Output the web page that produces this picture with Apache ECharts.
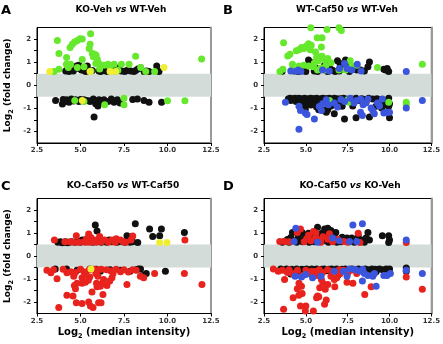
<!DOCTYPE html>
<html>
<head>
<meta charset="utf-8">
<script src="https://cdn.jsdelivr.net/npm/echarts@6/dist/echarts.min.js"></script>
<style>
html, body { margin: 0; padding: 0; background: #fff; }
#chart { width: 443px; height: 344px; }
</style>
</head>
<body>
<div id="chart"></div>
<script>
// panel titles
var panelLetters = ['A', 'B', 'C', 'D'];
var panelTitles = [
  ['KO-Veh', 'WT-Veh'],
  ['WT-Caf50', 'WT-Veh'],
  ['KO-Caf50', 'WT-Caf50'],
  ['KO-Caf50', 'KO-Veh']
];
var xTicks = [2.5, 5.0, 7.5, 10.0, 12.5];
var yTicks = [-2, -1, 0, 1, 2];

// A: KO-Veh vs WT-Veh
var aBlack = [
  [4.15,0.62],[4.24,0.66],[4.34,0.6],[4.43,0.64],[4.59,0.62],[4.78,0.83],[4.91,0.72],[5.2,0.64],[5.3,0.6],[5.39,0.83],
  [5.49,0.62],[5.68,0.64],[6.06,0.62],[6.16,0.6],[6.31,0.64],[6.45,0.62],[6.58,0.6],[6.77,0.64],[7.21,0.76],[7.35,0.62],
  [7.54,0.6],[7.65,0.64],[7.88,0.62],[8.07,0.6],[8.17,0.64],[8.3,0.7],[8.46,0.76],[8.65,0.6],[8.8,0.62],[8.94,0.6],
  [9.38,0.83],[9.51,0.6],[4.9,0.87],[5.05,0.66],[6.9,0.66],[7.0,0.62],
  [3.57,-0.66],[3.96,-0.81],[4.09,-0.7],[4.2,-0.63],[4.34,-0.74],[4.47,-0.6],[4.72,-0.63],[4.91,-0.7],[5.2,-0.63],[5.39,-0.66],
  [5.55,-0.7],[5.74,-0.6],[5.87,-0.8],[6.06,-0.63],[6.16,-0.74],[6.35,-0.63],[6.58,-0.7],[6.77,-0.6],[6.93,-0.74],[7.12,-0.63],
  [7.27,-0.77],[8.27,-0.6],[8.65,-0.66],[8.94,-0.74],[9.66,-0.74],[5.78,-1.37],[4.0,-0.62],[4.6,-0.68],[5.0,-0.62],[5.65,-0.65],
  [6.0,-0.9],[6.25,-0.66],[6.85,-0.66],[8.0,-0.62]
];
var aGreen = [
  [3.67,1.94],[3.76,1.37],[4.2,1.2],[4.4,1.63],[4.53,1.77],[4.66,1.87],[4.82,1.94],[4.97,2.01],[5.1,2.0],[5.58,2.23],
  [5.55,1.77],[5.5,1.59],[5.68,1.37],[5.81,1.34],[5.9,1.3],[5.74,1.23],[5.97,1.11],[5.1,1.11],[4.19,0.91],[4.43,0.91],
  [4.3,0.77],[4.82,0.77],[5.2,0.8],[5.88,0.94],[6.06,0.94],[6.35,0.87],[6.58,0.91],[6.93,0.91],[7.35,0.91],[7.79,0.91],
  [8.17,1.26],[8.46,0.77],[9.26,0.59],[11.96,1.14],[3.76,0.69],[3.48,0.59],[5.6,0.62],[6.1,0.7],[6.7,0.75],[7.15,0.65],
  [8.75,0.6],
  [4.67,-0.66],[6.39,-0.84],[7.5,-0.56],[7.5,-0.84],[10.0,-0.67],[11.0,-0.67],[5.2,-0.7]
];
var aYellow = [[3.23,0.59],[9.8,0.77],[6.7,0.59],[7.02,0.59],[5.1,-0.66],[5.55,0.6]];

// B: WT-Caf50 vs WT-Veh
var bBlack = [
  [3.59,0.61],[5.16,1.09],[5.35,0.97],[5.2,0.87],[6.12,0.87],[6.22,0.97],[6.41,0.77],[6.89,1.06],[7.04,0.94],[7.37,1.09],
  [7.46,0.97],[7.2,0.8],[7.84,0.69],[8.04,0.66],[8.27,0.66],[8.5,0.62],[8.8,1.01],[8.71,0.8],[9.66,0.69],[9.76,0.66],
  [9.86,0.73],[9.95,0.59],[4.3,0.62],[4.55,0.6],[4.9,0.64],[5.0,0.6],[5.5,0.62],[5.7,0.6],[6.3,0.6],[6.6,0.65],
  [6.75,0.6],[7.0,0.62],[7.6,0.6],[5.6,0.75],[6.0,0.72],[4.7,0.72],
  [3.95,-0.6],[4.05,-0.56],[4.1,-0.66],[4.2,-0.58],[4.28,-0.62],[4.35,-0.56],[4.42,-0.7],[4.5,-0.6],[4.58,-0.56],[4.65,-0.65],
  [4.72,-0.58],[4.8,-0.62],[4.85,-0.74],[4.92,-0.56],[5.0,-0.66],[5.05,-0.6],[5.12,-0.8],[5.18,-0.58],[5.25,-0.64],[5.3,-0.56],
  [5.38,-0.7],[5.45,-0.6],[5.5,-0.58],[5.58,-0.66],[5.65,-0.56],[5.72,-0.62],[5.8,-0.74],[5.88,-0.58],[5.95,-0.64],[6.02,-0.56],
  [6.1,-0.7],[6.18,-0.6],[6.25,-0.58],[6.32,-0.8],[6.4,-0.56],[6.48,-0.64],[6.55,-0.6],[6.62,-0.72],[6.7,-0.56],[6.78,-0.62],
  [6.85,-0.58],[6.95,-0.68],[7.05,-0.58],[7.15,-0.64],[7.25,-0.56],[7.4,-0.6],[7.55,-0.7],[7.7,-0.58],[7.85,-0.62],[8.0,-0.56],
  [8.15,-0.66],[8.35,-0.58],[8.55,-0.62],[8.75,-0.56],[9.0,-0.6],[9.25,-0.58],[9.5,-0.62],[9.8,-0.68],[9.95,-0.56],[10.0,-0.8],
  [4.88,-0.91],[4.97,-1.03],[5.64,-0.94],[5.77,-1.06],[6.12,-1.09],[6.22,-1.17],[6.31,-1.06],[6.7,-1.23],[7.31,-1.46],[7.17,-0.91],
  [8.0,-1.41],[8.8,-1.37],[9.19,-0.91],[9.53,-0.99],[9.95,-0.91],[10.0,-1.41],[5.3,-0.85],[5.55,-0.8],[6.5,-0.9],[7.0,-0.85],
  [7.8,-0.9],[8.6,-0.75],[9.7,-0.85]
];
var bGreen = [
  [3.67,1.84],[3.92,1.27],[4.05,1.34],[4.43,1.49],[4.59,1.54],[4.74,1.63],[4.88,1.59],[5.01,1.69],[5.16,1.8],[5.26,1.54],
  [5.32,1.73],[5.3,2.49],[6.27,2.41],[6.98,2.49],[7.12,2.37],[5.68,2.06],[5.97,2.06],[5.58,1.44],[5.93,1.66],[5.64,1.2],
  [5.83,1.23],[5.97,1.26],[6.12,1.09],[6.31,1.16],[5.74,1.06],[6.5,0.97],[4.2,0.91],[4.59,0.83],[4.88,0.87],[5.16,0.83],
  [5.45,0.8],[3.63,0.69],[4.17,0.66],[5.7,0.66],[5.9,0.75],[6.12,0.66],[6.98,0.66],[7.37,0.66],[7.65,1.06],[7.74,0.83],
  [8.04,0.87],[9.28,0.77],[11.96,0.91],[3.45,0.6],[6.2,0.85],[5.5,0.95],
  [6.41,-0.66],[7.5,-0.63],[7.56,-0.74],[9.95,-0.74],[11.0,-0.74],[11.0,-0.83]
];
var bBlue = [
  [4.55,0.66],[4.7,0.6],[6.0,0.66],[6.4,0.62],[7.31,0.94],[7.46,0.73],[8.07,0.91],[7.75,0.66],[11.0,0.59],[4.1,0.62],
  [4.45,0.62],[8.3,0.62],[7.0,0.72],
  [3.78,-0.74],[4.59,-0.91],[4.68,-1.09],[4.97,-1.2],[5.07,-1.27],[5.51,-1.46],[4.59,-1.91],[5.93,-1.09],[6.22,-0.63],[6.35,-0.84],
  [6.7,-0.77],[6.89,-0.94],[7.31,-0.7],[7.65,-0.56],[7.88,-0.77],[8.04,-0.66],[8.27,-0.6],[8.42,-0.84],[8.57,-0.77],[8.71,-0.6],
  [8.9,-0.99],[9.0,-1.09],[8.27,-1.17],[8.38,-1.31],[9.09,-1.23],[9.28,-0.77],[9.66,-1.2],[9.86,-1.17],[10.0,-1.17],[9.57,-0.6],
  [11.96,-0.66],[11.0,-0.98],[5.8,-0.92],[6.0,-0.8],[7.1,-0.62],[9.4,-0.9]
];

// C: KO-Caf50 vs WT-Caf50
var cBlack = [
  [5.85,1.35],[5.95,1.09],[8.15,1.4],[8.97,1.17],[9.15,0.85],[9.65,1.17],[9.55,0.88],[10.97,1.02],[7.67,0.88],[7.96,0.85],
  [8.29,0.59],[3.7,0.6],[3.85,0.62],[3.95,0.58],[4.05,0.6],[4.15,0.62],[4.25,0.58],[4.35,0.6],[4.5,0.62],[4.7,0.6],
  [4.85,0.64],[5.0,0.6],[5.1,0.7],[5.25,0.62],[5.4,0.66],[5.55,0.7],[5.7,0.6],[5.8,0.64],[5.95,0.62],[6.05,0.72],
  [6.2,0.6],[6.35,0.66],[6.5,0.6],[6.65,0.7],[6.8,0.62],[6.95,0.66],[7.1,0.6],[7.25,0.64],[7.4,0.62],[7.55,0.6],
  [7.7,0.66],[7.85,0.6],[8.0,0.62],
  [3.55,-0.56],[4.2,-0.56],[4.8,-0.62],[5.55,-0.56],[6.14,-0.66],[6.7,-0.6],[7.3,-0.62],[7.85,-0.66],[8.34,-0.56],[8.45,-0.56],
  [8.59,-0.85],[8.78,-0.76],[9.88,-0.66],[8.2,-0.6],[5.9,-0.58]
];
var cRed = [
  [3.5,0.7],[4.1,0.62],[4.4,0.62],[4.76,0.88],[5.47,0.96],[5.6,0.8],[5.78,0.7],[6.1,0.85],[6.4,0.7],[6.8,0.7],
  [7.05,0.75],[7.3,0.7],[7.6,0.6],[7.9,0.7],[11.0,0.7],[4.6,0.6],[4.9,0.6],[5.2,0.62],[5.35,0.75],[5.5,0.6],
  [5.65,0.62],[5.9,0.6],[6.2,0.62],[6.6,0.6],[7.0,0.6],[7.45,0.62],[5.3,0.6],[8.0,0.87],
  [3.07,-0.62],[3.3,-0.73],[3.65,-0.99],[3.45,-0.6],[4.0,-0.58],[4.22,-0.73],[4.45,-0.68],[4.7,-0.72],[4.61,-0.88],[5.0,-0.58],
  [5.2,-0.68],[5.09,-0.95],[5.5,-0.6],[5.78,-0.58],[5.88,-0.76],[6.0,-0.88],[4.8,-1.19],[4.65,-1.28],[4.71,-1.42],[5.09,-1.19],
  [5.28,-1.14],[5.53,-0.91],[5.66,-1.57],[5.95,-1.34],[5.92,-1.19],[6.14,-1.31],[6.24,-1.19],[6.33,-1.02],[6.52,-1.28],[6.68,-1.09],
  [6.81,-0.95],[6.87,-0.76],[6.29,-1.67],[4.22,-1.71],[4.57,-1.74],[4.76,-2.03],[5.09,-2.06],[5.47,-2.0],[5.57,-2.17],[5.72,-2.24],
  [6.04,-2.03],[6.18,-2.03],[3.75,-2.24],[7.67,-1.24],[8.44,-0.88],[8.63,-0.95],[9.26,-0.76],[10.97,-0.76],[11.98,-1.24],
  [6.5,-0.6],[6.75,-0.65],[7.05,-0.58],[7.3,-0.68],[7.5,-0.6],[7.75,-0.7],[8.0,-0.6],[8.2,-0.62],[6.2,-0.58],[5.3,-0.8],
  [5.45,-1.05],[6.0,-0.6]
];
var cYellow = [[9.55,0.59],[9.97,0.59],[5.6,-0.56]];

// D: KO-Caf50 vs KO-Veh
var dBlack = [
  [4.2,1.02],[4.43,1.14],[4.78,1.02],[5.16,0.99],[5.7,1.25],[6.12,1.17],[6.31,1.21],[6.5,1.11],[6.79,1.02],[5.95,0.99],
  [7.17,0.82],[7.46,0.78],[7.74,0.78],[8.13,0.88],[8.42,0.7],[8.71,1.02],[8.8,0.7],[9.57,0.88],[9.95,0.88],[10.0,0.7],
  [9.95,0.59],[3.6,0.6],[3.75,0.64],[3.9,0.72],[4.0,0.6],[4.1,0.8],[4.3,0.66],[4.45,0.6],[4.55,0.86],[4.65,0.7],
  [4.8,0.62],[4.95,0.78],[5.05,0.66],[5.2,0.6],[5.3,0.82],[5.4,0.7],[5.5,0.62],[5.6,0.9],[5.75,0.72],[5.85,0.62],
  [6.0,0.8],[6.1,0.66],[6.2,0.9],[6.35,0.6],[6.45,0.74],[6.6,0.64],[6.7,0.86],[6.85,0.6],[7.0,0.7],[7.1,0.62],
  [7.3,0.66],[7.6,0.62],[7.9,0.6],[8.2,0.64],[8.5,0.6],[8.6,0.78],
  [3.5,-0.56],[3.7,-0.6],[3.85,-0.56],[4.0,-0.66],[4.15,-0.58],[4.3,-0.62],[4.45,-0.56],[4.6,-0.66],[4.75,-0.58],[4.9,-0.6],
  [5.05,-0.56],[5.2,-0.64],[5.35,-0.56],[5.5,-0.6],[5.65,-0.56],[5.8,-0.7],[5.95,-0.58],[6.1,-0.56],[6.25,-0.64],[6.4,-0.58],
  [6.55,-0.56],[6.7,-0.62],[6.85,-0.56],[7.0,-0.66],[7.15,-0.58],[7.35,-0.56],[7.55,-0.62],[7.75,-0.56],[7.95,-0.6],[8.15,-0.56],
  [8.35,-0.62],[8.55,-0.56],[8.75,-0.6],[8.95,-0.56],[9.15,-0.58],[9.4,-0.56],[9.6,-0.6],[9.8,-0.56],[9.95,-0.62],[10.0,-0.56],
  [11.0,-0.52],[11.0,-0.66],[4.1,-0.78],[6.95,-0.82],[5.3,-0.72],[9.2,-0.68]
];
var dRed = [
  [3.44,0.63],[3.73,0.63],[4.49,1.02],[4.68,1.17],[5.16,0.9],[5.45,1.06],[5.58,0.82],[5.74,0.7],[6.02,0.84],[6.31,0.73],
  [6.41,0.97],[6.89,0.73],[7.27,0.63],[8.13,0.99],[8.23,0.59],[11.0,0.59],[4.0,0.62],[4.9,0.62],[5.3,0.66],[5.9,0.6],
  [6.6,0.62],[7.5,0.6],[5.05,0.75],[5.6,1.0],
  [3.06,-0.56],[3.35,-0.66],[3.73,-1.02],[4.2,-0.76],[4.36,-0.85],[4.59,-1.19],[4.74,-1.31],[4.49,-1.42],[4.78,-1.63],[4.24,-1.81],
  [4.58,-1.71],[4.68,-2.17],[4.97,-2.39],[5.0,-2.17],[5.45,-2.39],[3.67,-2.32],[5.7,-1.74],[5.64,-1.81],[5.77,-1.77],[6.12,-2.1],
  [6.22,-1.91],[5.83,-1.38],[6.02,-1.19],[6.16,-1.45],[6.31,-1.24],[5.93,-1.02],[6.5,-0.88],[6.73,-1.34],[6.7,-1.02],[6.85,-0.95],
  [7.05,-0.76],[7.46,-1.14],[7.81,-1.19],[7.5,-0.74],[7.25,-0.62],[8.04,-0.76],[8.52,-1.67],[8.9,-1.34],[11.0,-0.91],[11.96,-1.45],
  [5.2,-0.76],[5.0,-0.62],[5.35,-0.66],[5.55,-0.67],[5.65,-0.85],[4.8,-0.85],[4.0,-0.6],[4.5,-0.62],[5.8,-0.6],[6.0,-0.72],
  [6.3,-0.6],[6.6,-0.66],[7.0,-0.6],[7.7,-0.62],[3.6,-0.62],[3.9,-0.72],[5.9,-0.85],[6.9,-0.7]
];
var dBlue = [
  [4.4,1.21],[4.3,0.63],[6.6,0.78],[7.81,1.35],[8.38,1.4],[7.61,0.63],[8.04,0.63],[11.0,0.7],[5.7,0.6],[7.0,0.66],
  [4.36,-0.88],[4.74,-0.91],[5.0,-0.8],[5.4,-0.95],[5.9,-0.88],[6.7,-0.66],[7.25,-0.66],[7.46,-0.88],[7.6,-0.56],[8.04,-0.62],
  [8.27,-0.66],[8.38,-1.09],[8.5,-0.76],[8.71,-0.85],[9.0,-0.88],[9.2,-1.31],[9.1,-0.76],[9.66,-0.85],[9.85,-0.85],[10.05,-0.76],
  [11.0,-0.62],[11.96,-0.76],[8.4,-0.58],[7.9,-0.58]
];

var BLACK = '#111111', GREEN = '#66e82c', YELLOW = '#eeee33', BLUE = '#3b55dd', RED = '#e8231e';
var panelSeries = [
  [[aBlack, BLACK], [aGreen, GREEN], [aYellow, YELLOW]],
  [[bBlack, BLACK], [bGreen, GREEN], [bBlue, BLUE]],
  [[cBlack, BLACK], [cRed, RED], [cYellow, YELLOW]],
  [[dBlack, BLACK], [dRed, RED], [dBlue, BLUE]]
];

var FONT = 'DejaVu Sans';
// grid border gives the black top edge; axes redraw left/bottom (black) and right (grey)
var grids = [
  { left: 37, top: 27.5, width: 174, height: 115.5 },
  { left: 264, top: 27.5, width: 174, height: 115.5 },
  { left: 37, top: 198.5, width: 174, height: 115 },
  { left: 264, top: 198.5, width: 174, height: 115 }
].map(function (g) {
  return Object.assign({ show: true, borderColor: '#000', borderWidth: 1, backgroundColor: 'transparent' }, g);
});
var titleCenters = [[121, 5], [347, 5], [123, 181], [350, 181]];
var letterPos = [[1, 4], [223, 4], [1, 180], [223, 180]];

var subRich = {
  n: { fontFamily: FONT, fontWeight: 'bold', color: '#000', lineHeight: 14 },
  s: { fontFamily: FONT, fontWeight: 'bold', color: '#000', fontSize: 6.5, lineHeight: 8, verticalAlign: 'bottom' }
};

var xAxes = [], yAxes = [], series = [], titles = [];
for (var i = 0; i < 4; i++) {
  var showXName = i >= 2, showYName = i % 2 === 0;
  xAxes.push({
    type: 'value', gridIndex: i, min: xTicks[0], max: xTicks[xTicks.length - 1], interval: 2.5,
    axisLine: { onZero: false, lineStyle: { color: '#000', width: 1 } },
    axisTick: { length: 3, lineStyle: { color: '#000' } },
    axisLabel: { fontFamily: FONT, fontSize: 7, fontWeight: 'bold', color: '#333', margin: 4,
      formatter: function (v) { return v.toFixed(1); } },
    splitLine: { show: false },
    name: showXName ? '{n|Log}{s|2}{n| (median intensity)}' : '',
    nameLocation: 'middle', nameGap: 12,
    nameTextStyle: { fontSize: 10, rich: { n: Object.assign({ fontSize: 10 }, subRich.n), s: subRich.s } }
  });
  yAxes.push({
    type: 'value', gridIndex: i, min: -2.5, max: 2.5, interval: 0.5,
    axisLine: { onZero: false, lineStyle: { color: '#000', width: 1 } },
    axisTick: { length: 3, lineStyle: { color: '#000' } },
    axisLabel: { fontFamily: FONT, fontSize: 7, fontWeight: 'bold', color: '#333', margin: 6,
      showMinLabel: false, showMaxLabel: false,
      formatter: function (v) { return yTicks.indexOf(v) >= 0 ? String(v) : ''; } },
    splitLine: { show: false },
    name: showYName ? '{n|Log}{s|2}{n| (fold change)}' : '',
    nameLocation: 'middle', nameGap: 22,
    nameTextStyle: { fontSize: 9, rich: { n: Object.assign({ fontSize: 9 }, subRich.n), s: subRich.s } }
  });
  titles.push({
    text: '{b|' + panelTitles[i][0] + ' }{i|vs}{b| ' + panelTitles[i][1] + '}',
    left: titleCenters[i][0], top: titleCenters[i][1], textAlign: 'center', padding: 0,
    textStyle: { rich: {
      b: { fontFamily: FONT, fontWeight: 'bold', fontSize: 9, color: '#000' },
      i: { fontFamily: FONT, fontStyle: 'italic', fontSize: 9, color: '#000' }
    } }
  });
  titles.push({
    text: panelLetters[i], left: letterPos[i][0], top: letterPos[i][1], padding: 0,
    textStyle: { fontFamily: FONT, fontWeight: 'bold', fontSize: 13, color: '#000' }
  });
  // fold-change band
  series.push({
    type: 'scatter', xAxisIndex: i, yAxisIndex: i, data: [], z: 1, silent: true,
    markArea: { silent: true, itemStyle: { color: '#d4dcda' }, data: [[{ yAxis: -0.5 }, { yAxis: 0.5 }]] }
  });
  panelSeries[i].forEach(function (s) {
    series.push({
      type: 'scatter', xAxisIndex: i, yAxisIndex: i, data: s[0], symbolSize: 7, z: 3,
      itemStyle: { color: s[1], opacity: 1 }
    });
  });
}
// grey right edge
for (var j = 0; j < 4; j++) {
  yAxes.push({
    type: 'value', gridIndex: j, position: 'right', min: -2.5, max: 2.5,
    axisLine: { onZero: false, lineStyle: { color: '#999', width: 2 } },
    axisTick: { show: false }, axisLabel: { show: false }, splitLine: { show: false }
  });
}

var myChart = echarts.init(document.getElementById('chart'), null, { renderer: 'canvas' });
myChart.setOption({
  animation: false,
  backgroundColor: '#fff',
  title: titles,
  grid: grids,
  xAxis: xAxes,
  yAxis: yAxes,
  series: series
});
</script>
</body>
</html>
